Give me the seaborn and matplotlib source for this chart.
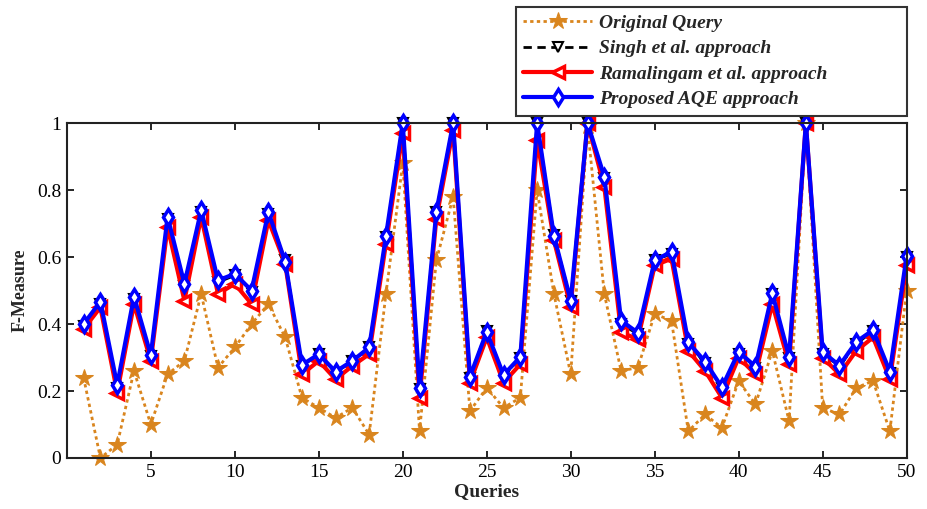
import matplotlib
matplotlib.use("Agg")
import matplotlib.pyplot as plt
import seaborn as sns
import pandas as pd
import numpy as np

queries = list(range(1, 51))

original = [0.24, 0.00, 0.04, 0.26, 0.10, 0.25, 0.29, 0.49, 0.27, 0.33,
            0.40, 0.46, 0.36, 0.18, 0.15, 0.12, 0.15, 0.07, 0.49, 0.88,
            0.08, 0.59, 0.78, 0.14, 0.21, 0.15, 0.18, 0.80, 0.49, 0.25,
            0.99, 0.49, 0.26, 0.27, 0.43, 0.41, 0.08, 0.13, 0.09, 0.23,
            0.16, 0.32, 0.11, 1.00, 0.15, 0.13, 0.21, 0.23, 0.08, 0.50]

singh = [0.395, 0.46, 0.21, 0.475, 0.305, 0.715, 0.515, 0.735, 0.525, 0.545,
         0.495, 0.73, 0.59, 0.275, 0.31, 0.255, 0.29, 0.33, 0.66, 1.00,
         0.205, 0.735, 1.00, 0.24, 0.38, 0.245, 0.30, 1.00, 0.665, 0.47,
         1.00, 0.835, 0.40, 0.37, 0.59, 0.61, 0.34, 0.285, 0.21, 0.31,
         0.27, 0.49, 0.30, 1.00, 0.31, 0.275, 0.34, 0.38, 0.255, 0.60]

ramalingam = [0.385, 0.45, 0.195, 0.46, 0.29, 0.69, 0.47, 0.72, 0.49, 0.52,
              0.46, 0.71, 0.58, 0.25, 0.29, 0.235, 0.275, 0.31, 0.64, 0.97,
              0.18, 0.715, 0.98, 0.225, 0.36, 0.225, 0.28, 0.95, 0.65, 0.45,
              1.00, 0.81, 0.375, 0.355, 0.575, 0.595, 0.32, 0.26, 0.18, 0.30,
              0.25, 0.46, 0.28, 1.00, 0.30, 0.25, 0.32, 0.36, 0.235, 0.575]

proposed = [0.40, 0.467, 0.218, 0.482, 0.307, 0.72, 0.52, 0.74, 0.53, 0.55,
            0.50, 0.735, 0.586, 0.278, 0.31, 0.258, 0.29, 0.33, 0.663, 1.00,
            0.208, 0.735, 1.00, 0.243, 0.377, 0.248, 0.302, 1.00, 0.663, 0.47,
            1.00, 0.84, 0.41, 0.374, 0.59, 0.616, 0.345, 0.288, 0.211, 0.317,
            0.273, 0.492, 0.302, 1.00, 0.317, 0.276, 0.347, 0.382, 0.258, 0.604]

labels = ["Original Query", "Singh et al. approach",
          "Ramalingam et al. approach", "Proposed AQE approach"]

sns.set_theme(style="white")
plt.rcParams['font.family'] = ['Liberation Serif', 'DejaVu Serif']

fig = plt.figure(figsize=(9.28, 5.09), dpi=100)
ax = fig.add_axes([0.072, 0.1002, 0.905, 0.658])

df = pd.DataFrame({"Queries": queries * 4,
                   "F": original + singh + ramalingam + proposed,
                   "Method": sum([[l] * 50 for l in labels], [])})

styles = {
    labels[0]: dict(color="#D9851E", linestyle=(0, (1.2, 1.2)), linewidth=2.0,
                    marker="*", markersize=13, markerfacecolor="#D9851E",
                    markeredgecolor="#D9851E"),
    labels[1]: dict(color="black", linestyle=(0, (3, 2)), linewidth=2.0,
                    marker="v", markersize=7, markerfacecolor="white",
                    markeredgecolor="black", markeredgewidth=1.5),
    labels[2]: dict(color="#FF0000", linestyle="-", linewidth=3.0,
                    marker="<", markersize=8, markerfacecolor="white",
                    markeredgecolor="#FF0000", markeredgewidth=2.5),
    labels[3]: dict(color="#0000FF", linestyle="-", linewidth=3.0,
                    marker="d", markersize=8, markerfacecolor="white",
                    markeredgecolor="#0000FF", markeredgewidth=2.5),
}

for lab in labels:
    sub = df[df["Method"] == lab]
    sns.lineplot(data=sub, x="Queries", y="F", ax=ax, label=lab,
                 estimator=None, sort=False, clip_on=False, **styles[lab])

ax.set_xlim(0, 50)
ax.set_ylim(0, 1)
ax.set_xticks([5, 10, 15, 20, 25, 30, 35, 40, 45, 50])
ax.set_yticks([0, 0.2, 0.4, 0.6, 0.8, 1.0])
ax.set_yticklabels(["0", "0.2", "0.4", "0.6", "0.8", "1"])
ax.tick_params(direction="in", length=5, width=1.2, top=True, right=True,
               bottom=True, left=True, labelsize=14, colors="black",
               pad=4)
for sp in ax.spines.values():
    sp.set_color("#222222")
    sp.set_linewidth(1.5)

ax.set_xlabel("Queries", fontsize=14, fontweight="bold", labelpad=2)
ax.set_ylabel("F-Measure", fontsize=13, fontweight="bold", labelpad=6)

leg = ax.legend(loc="lower left", bbox_to_anchor=(0.5345, 1.021, 0.4655, 0.316),
                mode="expand", borderaxespad=0,
                prop=dict(family="Liberation Serif", weight="bold",
                          style="italic", size=14),
                frameon=True, fancybox=False, framealpha=1,
                edgecolor="#333333", handlelength=3.5, labelspacing=0.4,
                borderpad=0.4, handletextpad=0.4)
leg.get_frame().set_linewidth(1.5)

fig.savefig("out.png", dpi=100)
